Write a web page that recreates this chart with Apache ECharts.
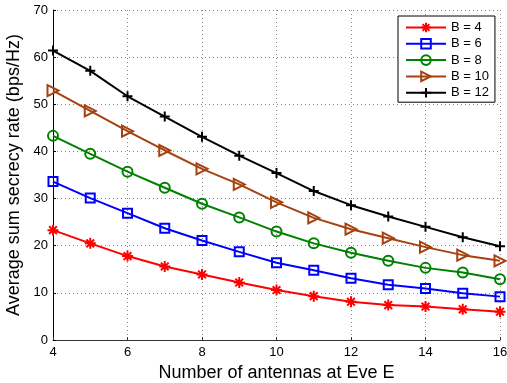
<!DOCTYPE html>
<html>
<head>
<meta charset="utf-8">
<script src="https://cdn.jsdelivr.net/npm/echarts@6/dist/echarts.min.js"></script>
<style>html,body{margin:0;padding:0;background:#fff}#c{width:507px;height:383px}</style>
</head>
<body>
<div id="c"></div>
<script>
var xs = [4,5,6,7,8,9,10,11,12,13,14,15,16];
var seriesNames = ['B = 4','B = 6','B = 8','B = 10','B = 12'];
var b4  = [23.3,20.5,17.8,15.6,13.9,12.2,10.6,9.3,8.1,7.4,7.1,6.5,6.0];
var b6  = [33.6,30.1,26.9,23.7,21.1,18.7,16.4,14.8,13.1,11.7,10.9,9.9,9.2];
var b8  = [43.3,39.5,35.7,32.3,28.9,26.0,23.0,20.5,18.5,16.8,15.3,14.3,12.9];
var b10 = [52.9,48.6,44.3,40.2,36.3,33.0,29.2,25.9,23.5,21.6,19.7,18.0,16.8];
var b12 = [61.4,57.1,51.7,47.4,43.1,39.1,35.4,31.6,28.6,26.2,24.0,21.8,19.9];
var yTicks = [0,10,20,30,40,50,60,70];
var xTicks = [4,6,8,10,12,14,16];

var colors = ['#ff0000','#0000ff','#008000','#a5420f','#000000'];
var symbols = [
  'path://M5,0L5,10M0,5L10,5M1.5,1.5L8.5,8.5M8.5,1.5L1.5,8.5',
  'path://M0,0L10,0L10,10L0,10Z',
  'circle',
  'path://M0,0L10,5L0,10Z',
  'path://M5,0L5,10M0,5L10,5'
];
var sizes = [11, 9, 10, 11, 10];
var all = [b4,b6,b8,b10,b12];

function pairs(arr){ return xs.map(function(x,i){ return [x, arr[i]]; }); }

var font = '"Liberation Sans", Arial, Helvetica, sans-serif';
var series = all.map(function(arr, k){
  return {
    name: seriesNames[k],
    type: 'line',
    data: pairs(arr),
    symbol: symbols[k],
    symbolSize: sizes[k],
    lineStyle: {color: colors[k], width: 2},
    itemStyle: {color: (k===1||k===2||k===3) ? 'rgba(255,255,255,0)' : colors[k], borderColor: colors[k], borderWidth: 2},
    showAllSymbol: true,
    animation: false,
    z: 2 + k
  };
});

var chart = echarts.init(document.getElementById('c'));
chart.setOption({
  animation: false,
  grid: {left: 53, right: 7, top: 10, bottom: 43, containLabel: false, outerBoundsMode: 'none'},
  legend: {
    orient: 'vertical',
    left: 398, top: 16,
    backgroundColor: '#fff',
    borderColor: '#000', borderWidth: 1,
    padding: [5, 6, 3, 7],
    itemWidth: 40, itemHeight: 12, itemGap: 3.3,
    textStyle: {fontFamily: font, fontSize: 13, color: '#000'},
    data: seriesNames
  },
  xAxis: {
    type: 'value', min: 4, max: 16, interval: 2,
    name: 'Number of antennas at Eve E',
    nameLocation: 'middle', nameGap: 18,
    nameTextStyle: {fontFamily: font, fontSize: 18, color: '#000'},
    axisLine: {onZero: false, lineStyle: {color: '#333', width: 1}},
    axisTick: {inside: true, length: 3, lineStyle: {color: '#333'}},
    axisLabel: {fontFamily: font, fontSize: 13, color: '#000', margin: 6,
      formatter: function(v){ return xTicks.indexOf(v) >= 0 ? String(v) : ''; }},
    splitLine: {show: true, lineStyle: {color: '#888', type: [1, 3], width: 1}}
  },
  yAxis: {
    type: 'value', min: 0, max: 70, interval: 10,
    name: 'Average sum secrecy rate (bps/Hz)',
    nameLocation: 'middle', nameGap: 22,
    nameTextStyle: {fontFamily: font, fontSize: 18, color: '#000'},
    axisLine: {show: true, lineStyle: {color: '#000', width: 1}},
    axisTick: {show: true, inside: true, length: 3, lineStyle: {color: '#000'}},
    axisLabel: {fontFamily: font, fontSize: 13, color: '#000', margin: 5,
      formatter: function(v){ return yTicks.indexOf(v) >= 0 ? String(v) : ''; }},
    splitLine: {show: true, lineStyle: {color: '#888', type: [1, 3], width: 1}}
  },
  series: series
});
</script>
</body>
</html>
